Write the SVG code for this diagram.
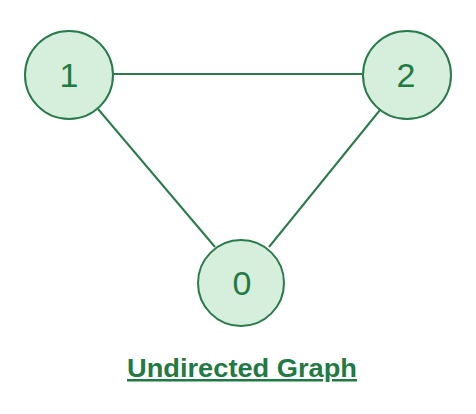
<svg xmlns="http://www.w3.org/2000/svg" width="476" height="414" viewBox="0 0 476 414">
<style>
.n{fill:#d6eedc;stroke:#2a7a4b;stroke-width:2}
.t{font-family:"Liberation Sans",Arial,sans-serif;font-size:34px;fill:#1f7a45;text-anchor:middle}
.e{stroke:#2a7a4b;stroke-width:2;fill:none}
</style>
<rect width="476" height="414" fill="#ffffff"/>
<g id="edges">
<line class="e" x1="112" y1="74" x2="362" y2="74"/>
<line class="e" x1="98" y1="109" x2="215" y2="247"/>
<line class="e" x1="380" y1="110" x2="269" y2="247"/>
</g>
<g id="node1"><circle class="n" cx="69" cy="75" r="44"/><text class="t" x="69" y="87">1</text></g>
<g id="node2"><circle class="n" cx="407" cy="75" r="44"/><text class="t" x="406" y="87">2</text></g>
<g id="node0"><circle class="n" cx="241" cy="283" r="43"/><text class="t" x="242" y="295">0</text></g>
<text x="242" y="377" font-family="'Liberation Sans',Arial,sans-serif" font-size="25" font-weight="bold" fill="#1f7a45" text-anchor="middle" text-decoration="underline" textLength="230" lengthAdjust="spacingAndGlyphs">Undirected Graph</text>
</svg>
